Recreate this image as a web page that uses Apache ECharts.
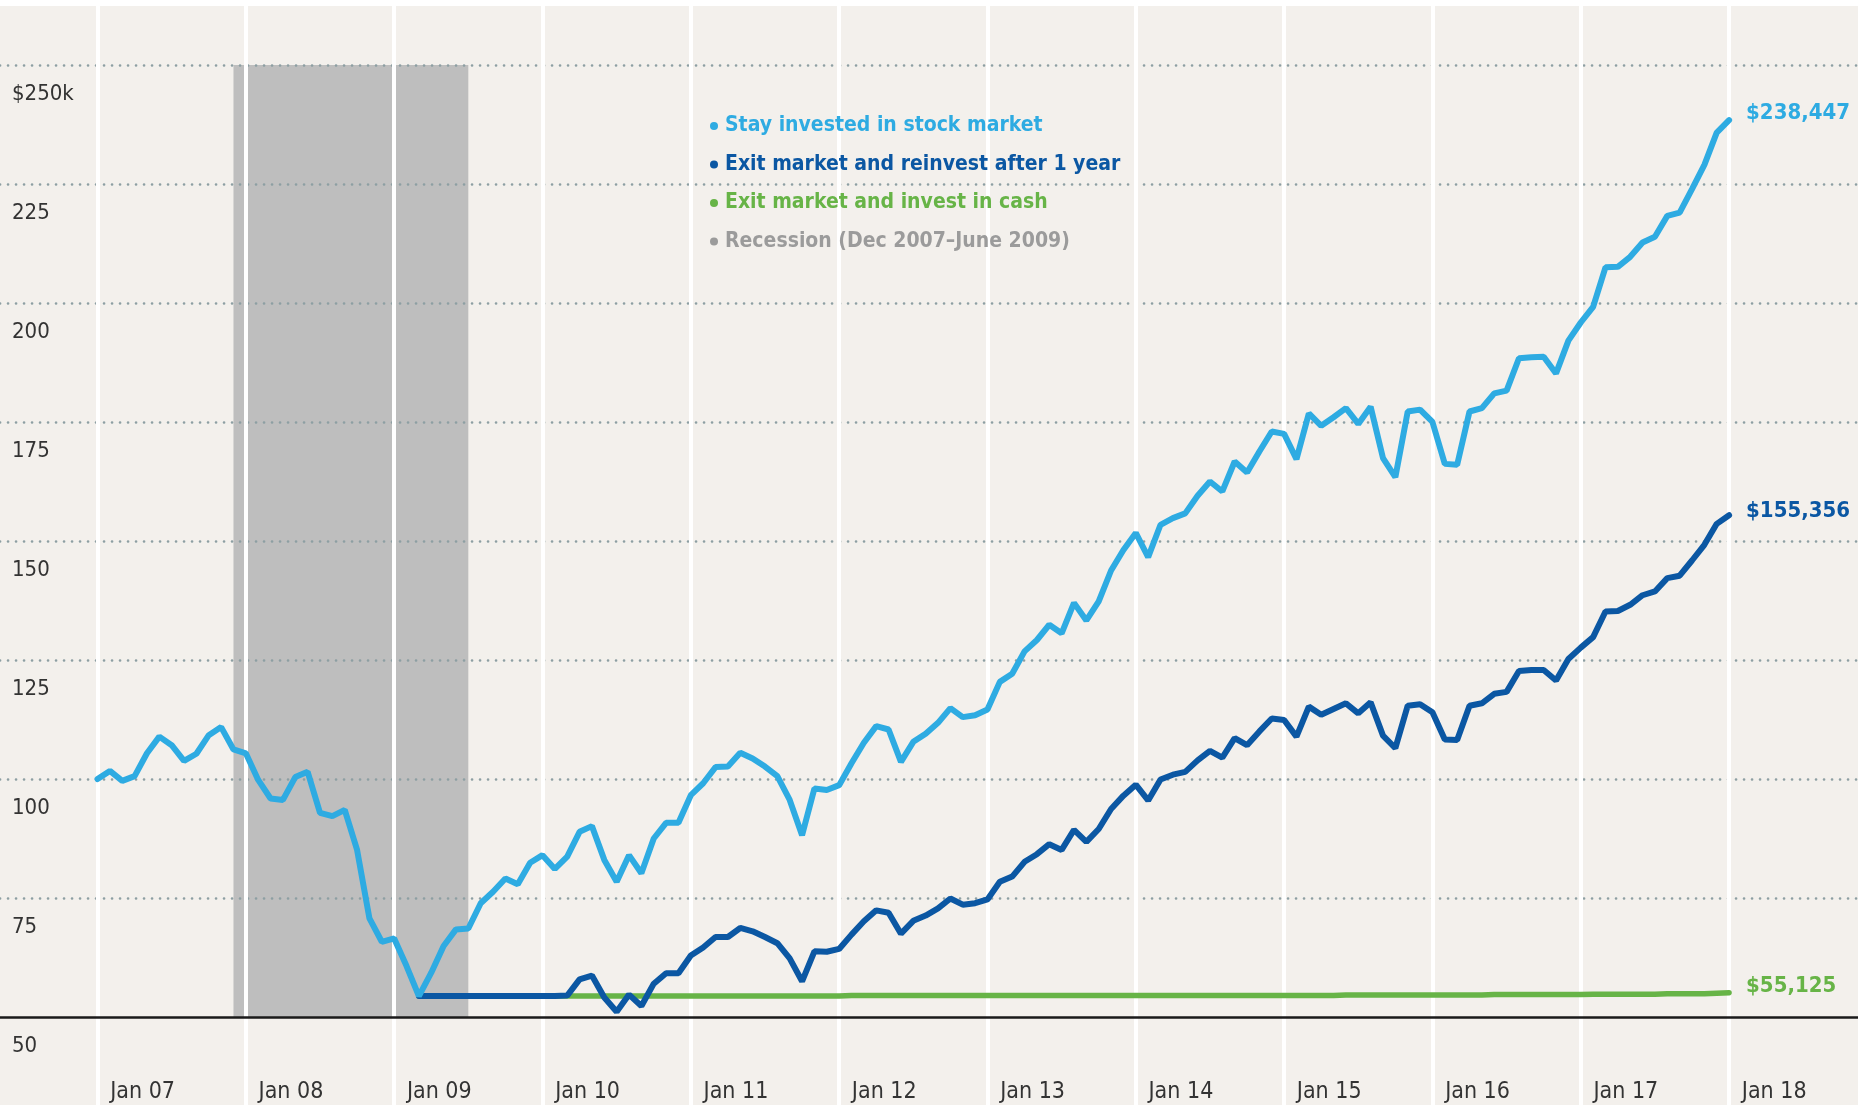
<!DOCTYPE html>
<html>
<head>
<meta charset="utf-8">
<script src="https://cdn.jsdelivr.net/npm/echarts@6/dist/echarts.min.js"></script>
<style>
  html, body { margin: 0; padding: 0; background: #fff; }
  #chart { width: 1858px; height: 1105px; }
</style>
</head>
<body>
<div id="chart"></div>
<script>
// x = month index, 0 = Jan 07 gridline (Dec 2006 close), 132 = Dec 2017 close
var stockValues = [
  100.0, 101.7, 99.6, 100.6, 105.4, 108.9, 107.1, 103.8, 105.3, 109.2, 110.9, 106.2,
  105.4, 99.8, 95.9, 95.6, 100.4, 101.5, 92.9, 92.2, 93.5, 85.1, 70.7, 65.8,
  66.5, 60.7, 54.4, 59.3, 64.9, 68.4, 68.6, 73.9, 76.3, 79.1, 77.9, 82.4,
  84.0, 81.1, 83.7, 88.9, 90.1, 83.0, 78.4, 84.0, 80.2, 87.5, 90.8, 90.8,
  96.6, 99.1, 102.5, 102.6, 105.5, 104.3, 102.6, 100.6, 95.6, 88.2, 98.0, 97.7,
  98.7, 103.3, 107.6, 111.1, 110.4, 103.6, 107.8, 109.5, 111.8, 114.9, 113.0, 113.4,
  114.6, 120.4, 122.1, 126.8, 129.2, 132.4, 130.6, 137.0, 133.3, 137.3, 143.8, 148.1,
  151.7, 146.6, 153.4, 154.8, 155.8, 159.5, 162.5, 160.4, 166.7, 164.4, 168.8, 173.0,
  172.5, 167.2, 176.8, 174.2, 176.0, 177.9, 174.6, 178.2, 167.4, 163.4, 177.2, 177.6,
  175.0, 166.2, 166.0, 177.2, 177.9, 181.0, 181.6, 188.4, 188.6, 188.7, 185.2, 192.1,
  195.9, 199.2, 207.5, 207.6, 209.7, 212.7, 213.9, 218.3, 219.0, 223.9, 229.0, 235.8,
  238.4
];

// both exit strategies start at the Feb 2009 low
var exitStart = 26;
var reinvestValues = [
  54.4, 54.4, 54.4, 54.4, 54.4, 54.4, 54.4, 54.4, 54.4, 54.4, 54.4, 54.4,
  54.5, 57.9, 58.7, 54.1, 51.1, 54.7, 52.3, 57.0, 59.2, 59.2,
  62.9, 64.6, 66.8, 66.8, 68.7, 68.0, 66.8, 65.5, 62.3, 57.5, 63.8, 63.7,
  64.3, 67.3, 70.1, 72.4, 71.9, 67.5, 70.2, 71.3, 72.8, 74.9, 73.6, 73.9,
  74.7, 78.4, 79.5, 82.6, 84.2, 86.3, 85.1, 89.3, 86.8, 89.5, 93.7, 96.5,
  98.8, 95.5, 99.9, 100.9, 101.5, 103.9, 105.9, 104.5, 108.6, 107.1, 110.0, 112.7,
  112.4, 108.9, 115.2, 113.5, 114.7, 115.9, 113.8, 116.1, 109.1, 106.5, 115.4, 115.7,
  114.0, 108.3, 108.2, 115.4, 115.9, 117.9, 118.3, 122.7, 122.9, 122.9, 120.7, 125.2,
  127.6, 129.8, 135.2, 135.3, 136.6, 138.6, 139.4, 142.2, 142.7, 145.9, 149.2, 153.6,
  155.4
];
var cashValues = [
  54.4, 54.4, 54.4, 54.4, 54.4, 54.4, 54.4, 54.4, 54.4, 54.4, 54.4, 54.4,
  54.4, 54.4, 54.4, 54.4, 54.4, 54.4, 54.4, 54.4, 54.4, 54.4, 54.4, 54.4,
  54.4, 54.4, 54.4, 54.4, 54.4, 54.4, 54.4, 54.4, 54.4, 54.4, 54.4,
  54.5, 54.5, 54.5, 54.5, 54.5, 54.5, 54.5, 54.5, 54.5, 54.5, 54.5, 54.5,
  54.5, 54.5, 54.5, 54.5, 54.5, 54.5, 54.5, 54.5, 54.5, 54.5, 54.5, 54.5,
  54.5, 54.5, 54.5, 54.5, 54.5, 54.5, 54.5, 54.5, 54.5, 54.5, 54.5, 54.5,
  54.5, 54.5, 54.5, 54.5,
  54.6, 54.6, 54.6, 54.6, 54.6, 54.6, 54.6, 54.6, 54.6, 54.6, 54.6, 54.6,
  54.7, 54.7, 54.7, 54.7, 54.7, 54.7, 54.7, 54.7,
  54.8, 54.8, 54.8, 54.8, 54.8, 54.8,
  54.9, 54.9, 54.9, 54.9, 55.0, 55.1
];

var seriesNames = [
  'Stay invested in stock market',
  'Exit market and reinvest after 1 year',
  'Exit market and invest in cash',
  'Recession (Dec 2007\u2013June 2009)'
];
var endLabels = ['$238,447', '$155,356', '$55,125'];

var yearTicks = [0, 12, 24, 36, 48, 60, 72, 84, 96, 108, 120, 132];
var yearLabels = ['Jan 07', 'Jan 08', 'Jan 09', 'Jan 10', 'Jan 11', 'Jan 12',
  'Jan 13', 'Jan 14', 'Jan 15', 'Jan 16', 'Jan 17', 'Jan 18'];
var yTicks = [50, 75, 100, 125, 150, 175, 200, 225, 250];
var recession = [11, 30];  // Dec 2007 .. end of June 2009

var BLUE = '#2eabe2', NAVY = '#0b57a3', GREEN = '#67b447', GRAY = '#9b9b9b';
var FONT = "'Liberation Sans Narrow', 'DejaVu Sans Condensed', 'Roboto', sans-serif";
var labelShift = 3.65;  // year labels sit a bit right of the gridline

function toPairs(values, start) {
  return values.map(function (v, i) { return [start + i, v]; });
}

var chart = echarts.init(document.getElementById('chart'), null, { renderer: 'canvas' });

function endLabel(text, color, dy) {
  return {
    show: true, formatter: text, color: color, distance: 17, offset: [0, dy],
    fontFamily: FONT, fontSize: 22, fontWeight: 'bold'
  };
}

var option = {
  animation: false,
  backgroundColor: '#f3f0ec',
  graphic: [{
    type: 'rect', left: 0, top: 0, z: 100,
    shape: { width: 1858, height: 6 },
    style: { fill: '#ffffff' }
  }],
  grid: { left: 0, right: 0, top: 6, bottom: 0 },
  legend: {
    orient: 'vertical',
    left: 705,
    top: 107,
    icon: 'circle',
    itemWidth: 12,
    itemHeight: 8,
    itemGap: 10.5,
    selectedMode: false,
    textStyle: { fontFamily: FONT, fontSize: 21, fontWeight: 'bold', lineHeight: 28 },
    data: [
      { name: seriesNames[0], textStyle: { color: BLUE } },
      { name: seriesNames[1], textStyle: { color: NAVY } },
      { name: seriesNames[2], textStyle: { color: GREEN } },
      { name: seriesNames[3], textStyle: { color: GRAY } }
    ]
  },
  xAxis: {
    type: 'value',
    min: -7.89,
    max: 142.43,
    z: 1.5,
    axisLine: { show: false },
    axisTick: { show: false, customValues: yearTicks },
    splitLine: { show: true, lineStyle: { color: '#ffffff', width: 4 } },
    axisLabel: {
      inside: true,
      margin: 13,
      verticalAlign: 'middle',
      customValues: yearTicks.map(function (t) { return t + labelShift; }),
      formatter: function (v) { return yearLabels[Math.round((v - labelShift) / 12)]; },
      color: '#333333',
      fontFamily: FONT,
      fontSize: 23
    }
  },
  yAxis: {
    type: 'value',
    min: 31.51,
    max: 262.39,
    z: 1.5,
    axisLine: { show: false },
    axisTick: { show: false, customValues: yTicks.slice(1) },
    splitLine: {
      show: true,
      lineStyle: { color: '#8d9fa3', width: 2.6, type: [0.1, 7.9], cap: 'round' }
    },
    axisLabel: {
      inside: true,
      margin: 12,
      verticalAlign: 'top',
      padding: [18, 0, 0, 0],
      customValues: yTicks,
      formatter: function (v) { return v === 250 ? '$250k' : String(v); },
      color: '#333333',
      fontFamily: FONT,
      fontSize: 22
    }
  },
  series: [
    {
      name: seriesNames[3],
      type: 'line',
      data: [],
      color: GRAY,
      markArea: {
        silent: true,
        itemStyle: { color: '#bebebe' },
        data: [[{ xAxis: recession[0], yAxis: yTicks[0] }, { xAxis: recession[1], yAxis: yTicks[yTicks.length - 1] }]]
      },
      markLine: {
        silent: true,
        symbol: 'none',
        label: { show: false },
        lineStyle: { color: '#1a1a1a', width: 2.5, type: 'solid' },
        data: [{ yAxis: yTicks[0] }]
      }
    },
    {
      name: seriesNames[2],
      type: 'line',
      color: GREEN,
      showSymbol: false,
      data: toPairs(cashValues, exitStart),
      lineStyle: { width: 5.5, cap: 'round' },
      endLabel: endLabel(endLabels[2], GREEN, -6)
    },
    {
      name: seriesNames[1],
      type: 'line',
      color: NAVY,
      showSymbol: false,
      data: toPairs(reinvestValues, exitStart),
      lineStyle: { width: 6, cap: 'round' },
      endLabel: endLabel(endLabels[1], NAVY, -4)
    },
    {
      name: seriesNames[0],
      type: 'line',
      color: BLUE,
      showSymbol: false,
      data: toPairs(stockValues, 0),
      lineStyle: { width: 6, cap: 'round' },
      endLabel: endLabel(endLabels[0], BLUE, -7)
    }
  ]
};

chart.setOption(option);
</script>
</body>
</html>
